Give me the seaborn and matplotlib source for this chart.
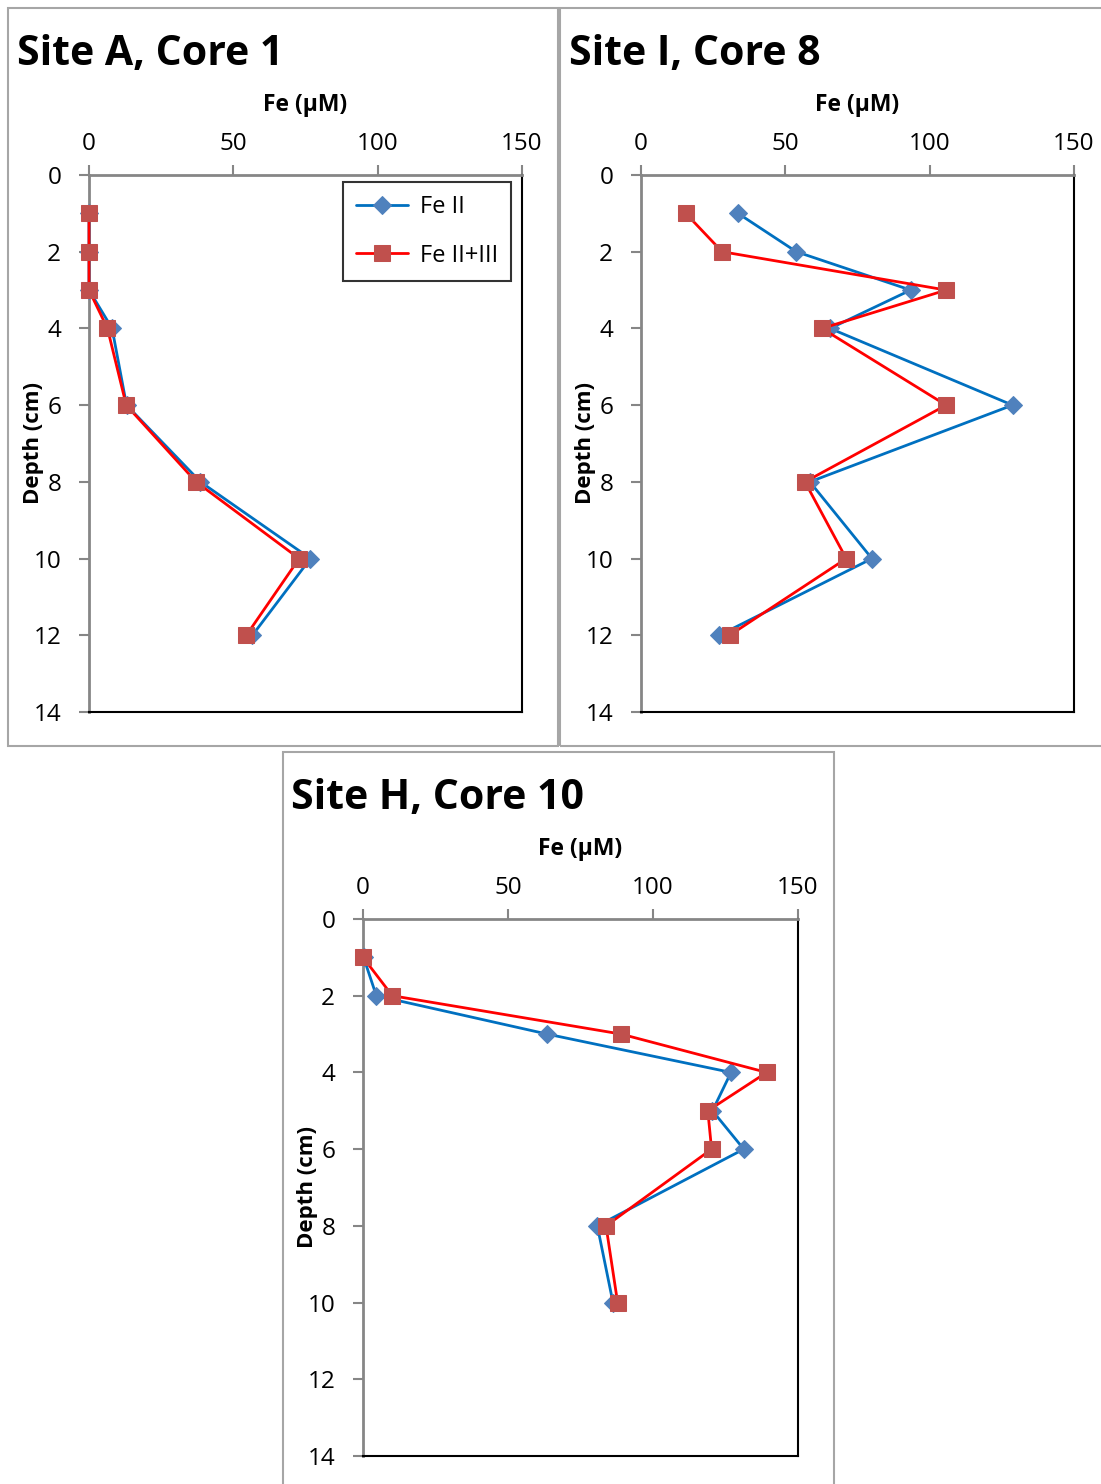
import numpy as np
import pandas as pd
import matplotlib
matplotlib.use('Agg')
import matplotlib.pyplot as plt
import seaborn as sns
from matplotlib.patches import Rectangle

# Depth profiles (cm) and iron concentrations (uM)
depth_a = [1, 2, 3, 4, 6, 8, 10, 12]
fe2_a = [0, 0, 0, 8.0, 13.0, 38.6, 76.7, 56.6]
fe23_a = [0, 0, 0, 6.4, 12.9, 37.1, 72.8, 54.5]

depth_i = [1, 2, 3, 4, 6, 8, 10, 12]
fe2_i = [33.6, 53.8, 93.4, 65.5, 128.7, 58.5, 80.0, 27.1]
fe23_i = [15.5, 28.1, 105.7, 62.7, 105.7, 56.8, 71.1, 30.7]

depth_h = [1, 2, 3, 4, 5, 6, 8, 10]
fe2_h = [0.2, 4.6, 63.5, 126.9, 120.5, 131.3, 80.8, 86.2]
fe23_h = [0, 10.1, 89.0, 139.2, 118.9, 120.2, 83.8, 87.8]

titles = ['Site A, Core 1', 'Site I, Core 8', 'Site H, Core 10']
series_names = ['Fe II', 'Fe II+III']
x_ticks = [0, 50, 100, 150]
y_ticks = [0, 2, 4, 6, 8, 10, 12, 14]

sns.set_theme(style='white')
plt.rcParams['font.family'] = ['Open Sans', 'DejaVu Sans']
plt.rcParams['text.color'] = 'black'
plt.rcParams['xtick.color'] = '#868686'
plt.rcParams['ytick.color'] = '#868686'
plt.rcParams['xtick.labelcolor'] = 'black'
plt.rcParams['ytick.labelcolor'] = 'black'
plt.rcParams['axes.labelcolor'] = 'black'

W, H = 1101, 1484
fig = plt.figure(figsize=(W / 100, H / 100), dpi=100)

def px_rect(l, t, r, b):
    return [l / W, 1 - b / H, (r - l) / W, (b - t) / H]

# panel frames (gray boxes)
for (l, t, r, b) in [(8, 8, 558, 746), (560, 8, 1108, 746), (283, 752, 834, 1492)]:
    fig.patches.append(Rectangle((l / W, 1 - b / H), (r - l) / W, (b - t) / H,
                                 transform=fig.transFigure, fill=False,
                                 edgecolor='#a6a6a6', linewidth=1.5))

panels = [
    (depth_a, fe2_a, fe23_a, (89, 175, 522, 712), (17, 54), True),
    (depth_i, fe2_i, fe23_i, (641, 175, 1074, 712), (569, 54), False),
    (depth_h, fe2_h, fe23_h, (363, 919, 798, 1456), (291, 798), False),
]

for k, (depth, fe2, fe23, box, tpos, show_leg) in enumerate(panels):
    ax = fig.add_axes(px_rect(*box))
    df = pd.DataFrame({'depth': depth * 2,
                       'fe': fe2 + fe23,
                       'series': [series_names[0]] * len(depth) + [series_names[1]] * len(depth)})
    d1 = df[df['series'] == series_names[0]]
    d2 = df[df['series'] == series_names[1]]
    sns.lineplot(data=d1, x='fe', y='depth', orient='y', sort=False, ax=ax,
                 color='#0070C0', linewidth=2, marker='D', markersize=9,
                 markerfacecolor='#4F81BD', markeredgecolor='#4F81BD',
                 label=series_names[0], legend=False, zorder=3, clip_on=False)
    sns.lineplot(data=d2, x='fe', y='depth', orient='y', sort=False, ax=ax,
                 color='#FF0000', linewidth=2, marker='s', markersize=11,
                 markerfacecolor='#C0504D', markeredgecolor='#C0504D',
                 label=series_names[1], legend=False, zorder=4, clip_on=False)
    ax.set_xlim(0, 150)
    ax.set_ylim(14, 0)
    ax.set_xticks(x_ticks)
    ax.set_yticks(y_ticks)
    ax.xaxis.tick_top()
    ax.xaxis.set_label_position('top')
    ax.tick_params(axis='both', which='major', labelsize=17.5, length=7, width=1.5,
                   direction='out')
    ax.tick_params(axis='x', top=True, bottom=False, pad=7)
    ax.tick_params(axis='y', left=True, right=False, pad=13)
    for side in ['top', 'left']:
        ax.spines[side].set_color('#868686')
        ax.spines[side].set_linewidth(2)
    for side in ['right', 'bottom']:
        ax.spines[side].set_color('black')
        ax.spines[side].set_linewidth(1.5)
    ax.set_xlabel('Fe (µM)', fontsize=16.5, fontweight='bold', labelpad=15)
    ax.set_ylabel('Depth (cm)', fontsize=16, fontweight='bold', labelpad=-8)
    fig.text(tpos[0] / W, 1 - tpos[1] / H, titles[k], fontsize=29.5, fontweight='bold',
             ha='left', va='center')
    if show_leg:
        leg = ax.legend(loc='upper right', bbox_to_anchor=(0.975, 0.987), fontsize=17,
                        frameon=True, fancybox=False, edgecolor='black',
                        handlelength=2.2, handletextpad=0.5, labelspacing=1.05,
                        borderpad=0.55, borderaxespad=0)
        leg.get_frame().set_linewidth(1.5)

fig.savefig('out.png', dpi=100)
